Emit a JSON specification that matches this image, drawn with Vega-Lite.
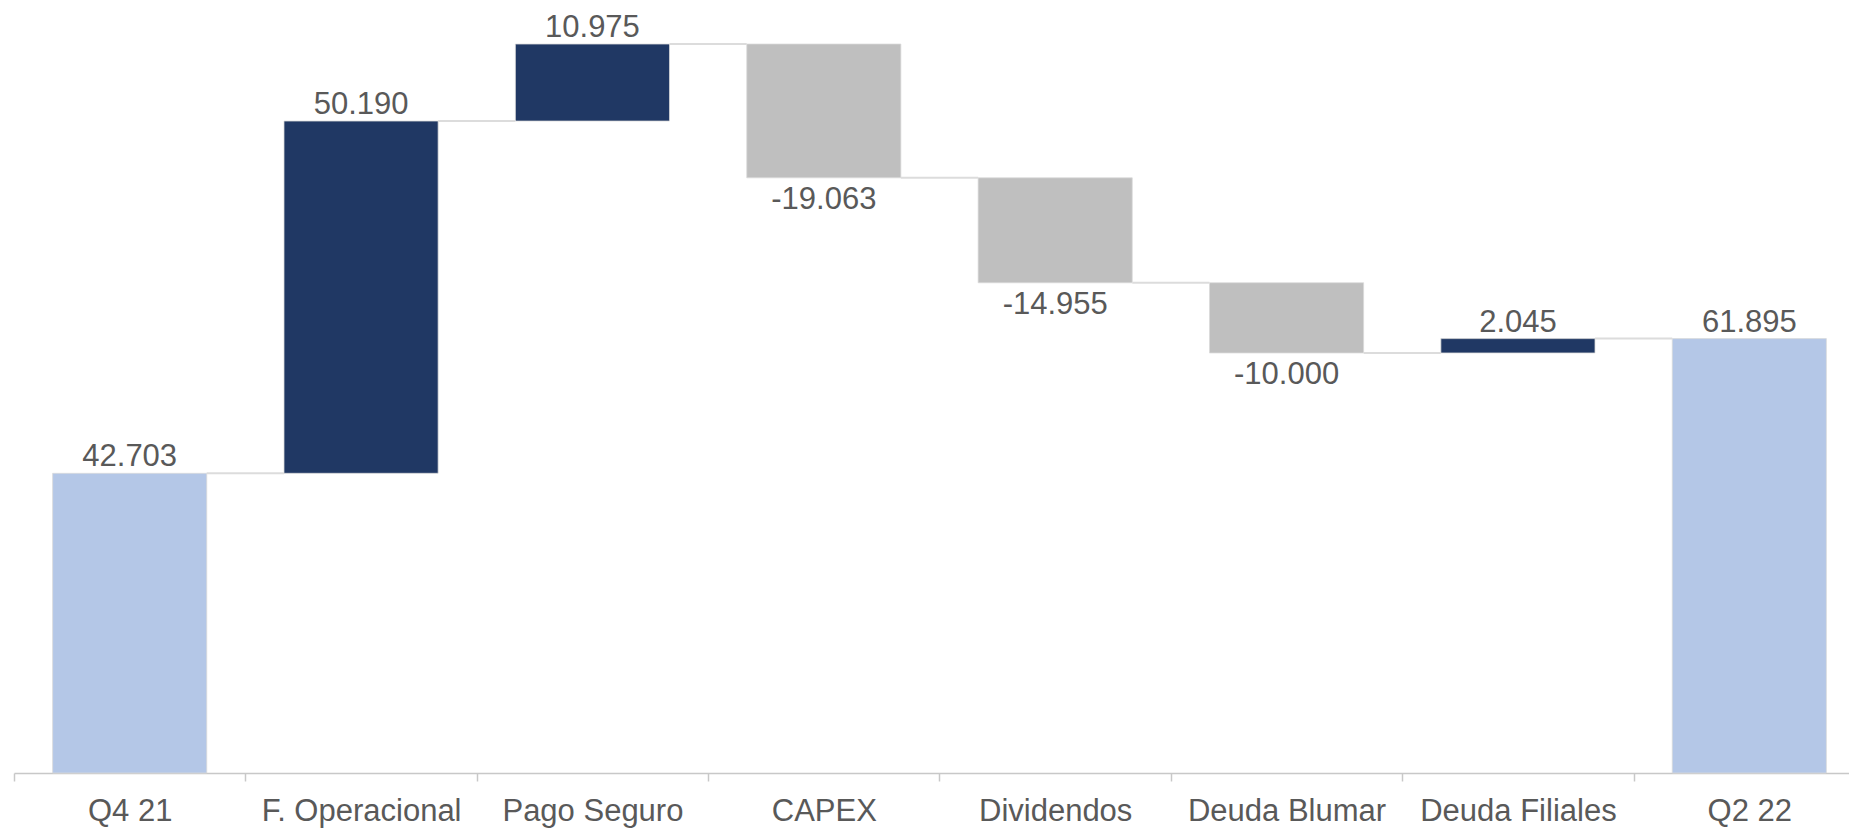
{
  "$schema": "https://vega.github.io/schema/vega-lite/v6.json",
  "autosize": {"type": "none"},
  "width": 1835,
  "height": 772,
  "padding": {"left": 14, "top": 1, "right": 0, "bottom": 58},
  "background": "white",
  "config": {"view": {"stroke": null}, "font": "Liberation Sans"},
  "data": {
    "values": [
      {"cat": "Q4 21", "start": 0, "end": 42.703, "kind": "total", "label": "42.703", "sign": "pos", "next": "F. Operacional"},
      {"cat": "F. Operacional", "start": 42.703, "end": 92.893, "kind": "inc", "label": "50.190", "sign": "pos", "next": "Pago Seguro"},
      {"cat": "Pago Seguro", "start": 92.893, "end": 103.868, "kind": "inc", "label": "10.975", "sign": "pos", "next": "CAPEX"},
      {"cat": "CAPEX", "start": 103.868, "end": 84.805, "kind": "dec", "label": "-19.063", "sign": "neg", "next": "Dividendos"},
      {"cat": "Dividendos", "start": 84.805, "end": 69.85, "kind": "dec", "label": "-14.955", "sign": "neg", "next": "Deuda Blumar"},
      {"cat": "Deuda Blumar", "start": 69.85, "end": 59.85, "kind": "dec", "label": "-10.000", "sign": "neg", "next": "Deuda Filiales"},
      {"cat": "Deuda Filiales", "start": 59.85, "end": 61.895, "kind": "inc", "label": "2.045", "sign": "pos", "next": "Q2 22"},
      {"cat": "Q2 22", "start": 0, "end": 61.895, "kind": "total", "label": "61.895", "sign": "pos", "next": null}
    ]
  },
  "encoding": {
    "x": {
      "field": "cat", "type": "nominal", "sort": null, "title": null,
      "scale": {"range": [0, 1851], "paddingInner": 0.334, "paddingOuter": 0.167},
      "axis": {
        "labelAngle": 0, "labelFontSize": 31, "labelColor": "#595959", "labelFont": "Liberation Sans",
        "labelLimit": 0, "labelOffset": 115.7,
        "domainColor": "#c8c8c8", "domainWidth": 1.5, "tickColor": "#c8c8c8", "tickWidth": 1.5,
        "tickSize": 8, "tickOffset": -115.7, "labelPadding": 15, "labelBaseline": "top"
      }
    }
  },
  "layer": [
    {
      "mark": {"type": "bar", "stroke": "#d9d9d9", "strokeWidth": 0.75},
      "encoding": {
        "y": {"field": "start", "type": "quantitative", "scale": {"domain": [0, 110], "nice": false, "zero": true}, "axis": null},
        "y2": {"field": "end"},
        "color": {
          "field": "kind", "type": "nominal", "legend": null,
          "scale": {"domain": ["total", "inc", "dec"], "range": ["#B4C7E7", "#203864", "#BFBFBF"]}
        }
      }
    },
    {
      "transform": [{"filter": "datum.next != null"}],
      "mark": {"type": "rule", "color": "#dcdcdc", "strokeWidth": 2},
      "encoding": {
        "x": {"field": "cat", "type": "nominal", "sort": null, "bandPosition": 1},
        "x2": {"field": "next", "bandPosition": 0},
        "y": {"field": "end", "type": "quantitative"}
      }
    },
    {
      "transform": [{"filter": "datum.sign == 'pos'"}],
      "mark": {"type": "text", "fontSize": 31, "color": "#595959", "baseline": "alphabetic", "dy": -7, "font": "Liberation Sans"},
      "encoding": {
        "y": {"field": "end", "type": "quantitative"},
        "text": {"field": "label"}
      }
    },
    {
      "transform": [{"filter": "datum.sign == 'neg'"}],
      "mark": {"type": "text", "fontSize": 31, "color": "#595959", "baseline": "alphabetic", "dy": 31, "font": "Liberation Sans"},
      "encoding": {
        "y": {"field": "end", "type": "quantitative"},
        "text": {"field": "label"}
      }
    }
  ]
}
